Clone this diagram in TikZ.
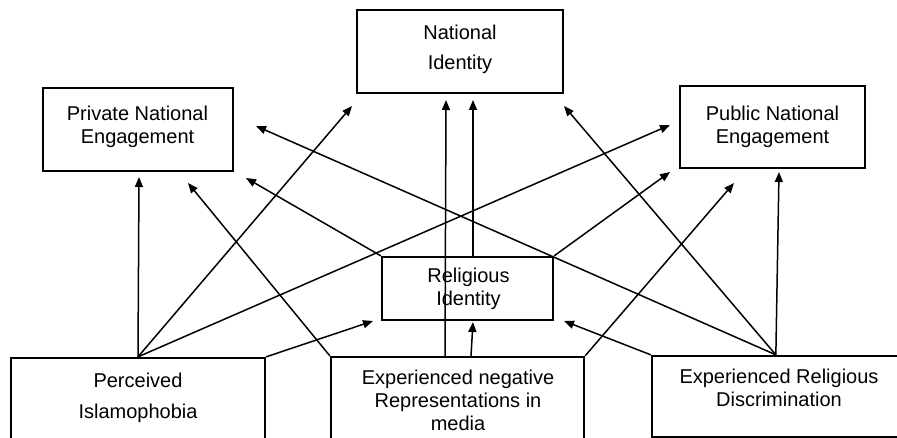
\documentclass[tikz,border=0pt]{standalone}
\usepackage{fontspec}
\setmainfont{Liberation Sans}
\usetikzlibrary{arrows.meta,calc}
\begin{document}
\begin{tikzpicture}[x=1pt,y=-1pt,
  boxnode/.style={draw,line width=2.3pt,inner sep=0pt,rectangle},
  labeltext/.style={align=center,inner sep=0pt,font=\fontsize{20}{23}\selectfont},
  widetext/.style={align=center,inner sep=0pt,font=\fontsize{20}{30.5}\selectfont},
  conn/.style={line width=1.5pt,-{Triangle[length=10pt,width=8pt]}}]
\useasboundingbox (0,0) rectangle (897,438);
\clip (0,0) rectangle (897,438);
\fill[white] (0,0) rectangle (897,438);
% boxes
\node[boxnode,minimum width=190pt,minimum height=83pt] (pne) at (138,129.5) {};
\node[boxnode,minimum width=206pt,minimum height=83pt] (ni) at (460,51.5) {};
\node[boxnode,minimum width=185pt,minimum height=82pt] (pub) at (772.5,127) {};
\node[boxnode,minimum width=171pt,minimum height=63pt] (ri) at (467.5,288.5) {};
\node[boxnode,minimum width=254pt,minimum height=92pt] (pi) at (138,404) {};
\node[boxnode,minimum width=253pt,minimum height=93pt] (enr) at (457.5,403.5) {};
\node[boxnode,minimum width=308pt,minimum height=81pt] (erd) at (806,396.5) {};
% texts
\node[labeltext] (pnet) at (137.5,126.9) {Private National\\Engagement};
\node[widetext] (nit) at (460,49.5) {National\\Identity};
\node[labeltext] (pubt) at (772.5,126.5) {Public National\\Engagement};
\node[labeltext] (rit) at (468.5,289.3) {Religious\\Identity};
\node[widetext] (pit) at (138,398) {Perceived\\Islamophobia};
\node[labeltext] (enrt) at (458,400.3) {Experienced negative\\Representations in\\media};
\node[labeltext] (erdt) at (779,388) {Experienced Religious\\Discrimination};
% arrow tips
\coordinate (t1) at (139,177);
\coordinate (t2) at (352,106);
\coordinate (t3) at (670,125);
\coordinate (t4) at (373,321);
\coordinate (t5) at (188,183);
\coordinate (t6) at (446,100);
\coordinate (t7) at (473,322);
\coordinate (t8) at (734,183);
\coordinate (t9) at (670,172);
\coordinate (t10) at (246,178);
\coordinate (t11) at (473,100);
\coordinate (t12) at (779,172);
\coordinate (t13) at (564,106);
\coordinate (t14) at (256,126);
\coordinate (t15) at (564,321);
% start points
\coordinate (enrA) at ($(enr.north)+(-12.5,0)$);
\coordinate (enrB) at ($(enr.north)+(13.5,0)$);
\coordinate (riA) at ($(ri.north)+(5.5,0)$);
\coordinate (erdtop) at ($(erd.north west)+(125,0)$);
% connectors
\draw[conn] (pi.north) -- (t1);
\draw[conn] (pi.north) -- (t2);
\draw[conn] (pi.north) -- (t3);
\draw[conn] (pi.north east) -- (t4);
\draw[conn] (enr.north west) -- (t5);
\draw[conn] (enrA) -- (t6);
\draw[conn] (enrB) -- (t7);
\draw[conn] (enr.north east) -- (t8);
\draw[conn] (ri.north east) -- (t9);
\draw[conn] (ri.north west) -- (t10);
\draw[conn] (riA) -- (t11);
\draw[conn] (erdtop) -- (t12);
\draw[conn] (erdtop) -- (t13);
\draw[conn] (erdtop) -- (t14);
\draw[conn] (erd.north west) -- (t15);
\end{tikzpicture}
\end{document}
